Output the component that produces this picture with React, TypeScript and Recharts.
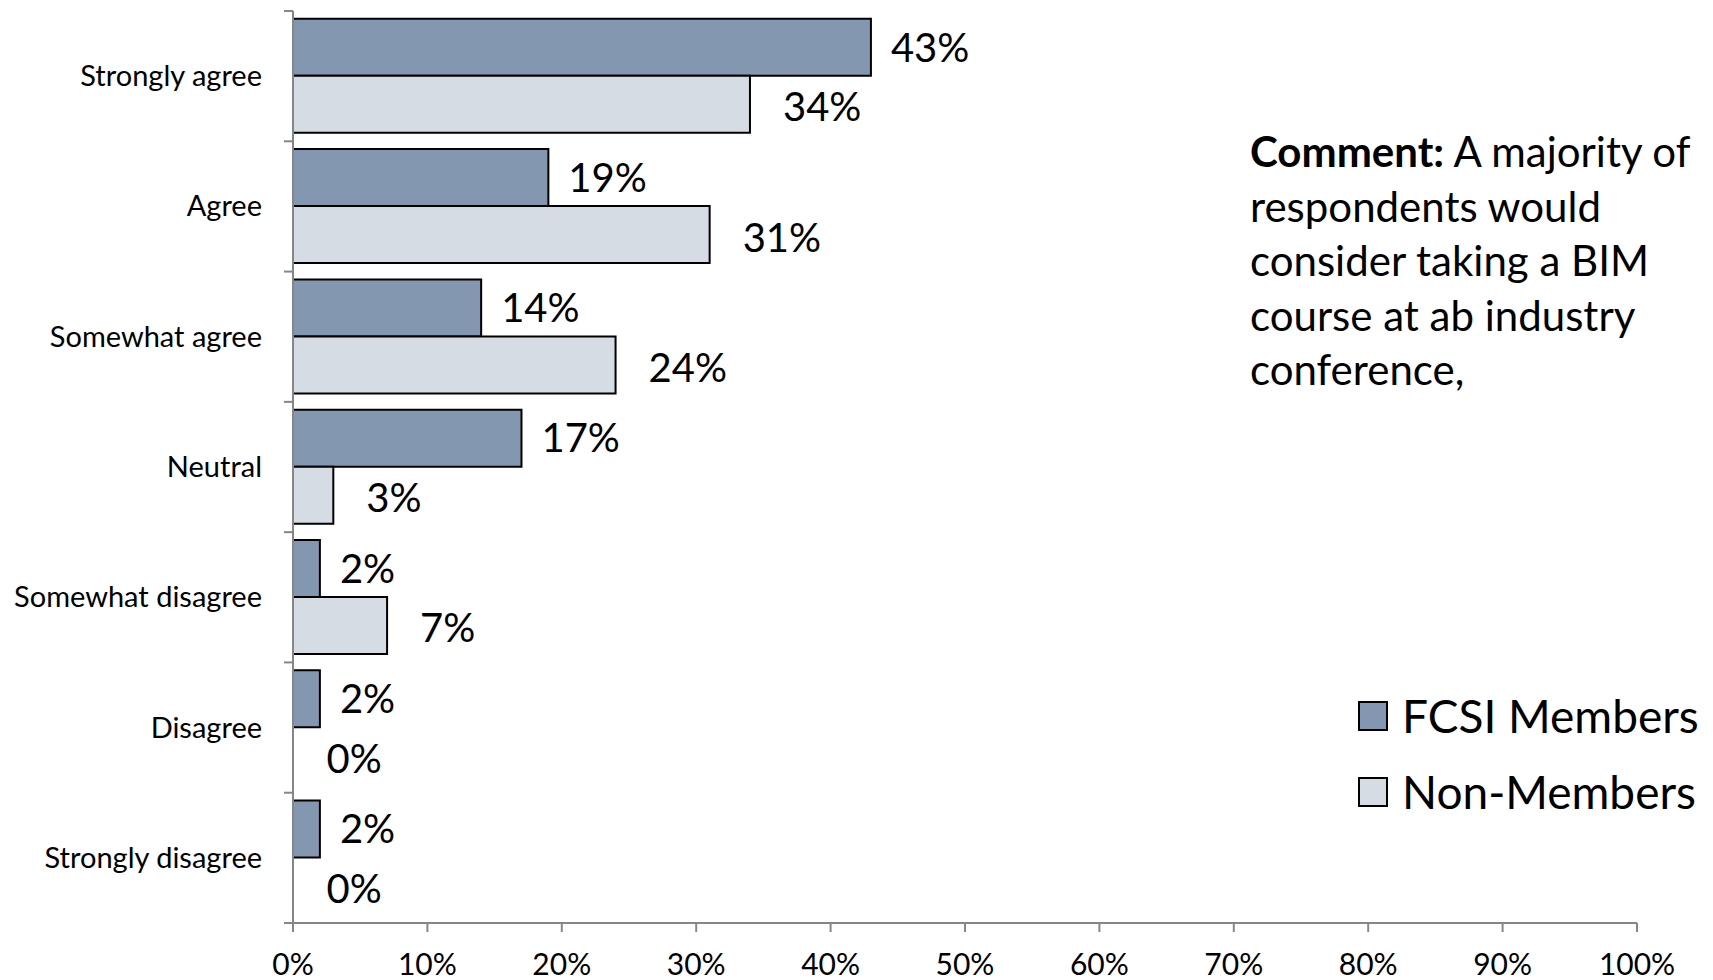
import { BarChart, Bar, XAxis, YAxis, Legend, LabelList, Cell } from "recharts";

const categories = [
  "Strongly agree",
  "Agree",
  "Somewhat agree",
  "Neutral",
  "Somewhat disagree",
  "Disagree",
  "Strongly disagree",
];
const fcsiMembers = [43, 19, 14, 17, 2, 2, 2];
const nonMembers = [34, 31, 24, 3, 7, 0, 0];
const xTicks = [0, 10, 20, 30, 40, 50, 60, 70, 80, 90, 100];

const FONT = "Lato, 'Open Sans', sans-serif";
const W = 1713;
const H = 980;
const TOP = 11;
const X_AXIS_H = 57;
const Y_AXIS_W = 293;
const BAND = (H - TOP - X_AXIS_H) / categories.length;

const data = categories.map((name, i) => ({
  name,
  fcsi: fcsiMembers[i],
  non: nonMembers[i],
}));

const CategoryTick = ({ x, y, payload, index }: any) => {
  const ax = x + 8;
  return (
    <g>
      <line x1={ax - 9} x2={ax} y1={y - BAND / 2} y2={y - BAND / 2} stroke="#868686" strokeWidth={2} />
      {index === categories.length - 1 && (
        <line x1={ax - 9} x2={ax} y1={y + BAND / 2} y2={y + BAND / 2} stroke="#868686" strokeWidth={2} />
      )}
      <text x={ax - 31} y={y} dy={10} textAnchor="end" fontSize={29} fontFamily={FONT} fill="#000">
        {payload.value}
      </text>
    </g>
  );
};

const NonLabel = ({ x, y, width, height, value }: any) => (
  <text
    x={x + width + 33}
    y={y + height / 2 + 3}
    dy={14}
    fontSize={40}
    fontFamily={FONT}
    fill="#000"
  >
    {value}%
  </text>
);

const LegendBox = () => (
  <div style={{ fontFamily: FONT, fontSize: 46, color: "#000", lineHeight: "76px" }}>
    {[
      { label: "FCSI Members", color: "#8497B0" },
      { label: "Non-Members", color: "#D6DCE4" },
    ].map((item) => (
      <div key={item.label} style={{ display: "flex", alignItems: "center", whiteSpace: "nowrap" }}>
        <span
          style={{
            display: "inline-block",
            width: 26,
            height: 26,
            background: item.color,
            border: "2px solid #000",
            marginRight: 14,
          }}
        />
        {item.label}
      </div>
    ))}
  </div>
);

export default function App() {
  return (
    <div style={{ position: "absolute", left: 0, top: 0, width: W, height: H, background: "#fff" }}>
      <BarChart
        width={W}
        height={H}
        data={data}
        layout="vertical"
        margin={{ top: TOP, right: 76, left: 0, bottom: 0 }}
        barCategoryGap="6%"
        barGap={0}
      >
        <XAxis
          type="number"
          domain={[0, 100]}
          ticks={xTicks}
          tickFormatter={(v) => `${v}%`}
          height={X_AXIS_H}
          tickSize={9}
          tickMargin={22}
          stroke="#868686"
          strokeWidth={2}
          tick={{ fill: "#000", fontSize: 30, fontFamily: FONT }}
          interval={0}
        />
        <YAxis
          type="category"
          dataKey="name"
          width={Y_AXIS_W}
          tickLine={false}
          stroke="#868686"
          strokeWidth={2}
          tick={<CategoryTick />}
          interval={0}
        />
        <Legend
          layout="vertical"
          verticalAlign="middle"
          align="center"
          content={<LegendBox />}
          wrapperStyle={{ position: "absolute", left: 1358, top: 678, width: 360 }}
        />
        <Bar dataKey="fcsi" name="FCSI Members" fill="#8497B0" stroke="#000" strokeWidth={2} isAnimationActive={false}>
          <LabelList
            dataKey="fcsi"
            position="right"
            offset={20}
            formatter={(v: any) => `${v}%`}
            style={{ fontSize: 40, fontFamily: FONT, fill: "#000" }}
          />
        </Bar>
        <Bar
          dataKey="non"
          name="Non-Members"
          fill="#D6DCE4"
          stroke="#000"
          strokeWidth={2}
          minPointSize={0.5}
          isAnimationActive={false}
        >
          {data.map((d) => (
            <Cell key={d.name} stroke={d.non === 0 ? "none" : "#000"} fill={d.non === 0 ? "none" : "#D6DCE4"} />
          ))}
          <LabelList dataKey="non" content={<NonLabel />} />
        </Bar>
      </BarChart>
      <div
        style={{
          position: "absolute",
          left: 1250,
          top: 124,
          width: 470,
          fontFamily: FONT,
          fontSize: 42,
          lineHeight: "54.5px",
          color: "#000",
          whiteSpace: "nowrap",
        }}
      >
        <b>Comment:</b> A majority of
        <br />
        respondents would
        <br />
        consider taking a BIM
        <br />
        course at ab industry
        <br />
        conference,
      </div>
    </div>
  );
}
